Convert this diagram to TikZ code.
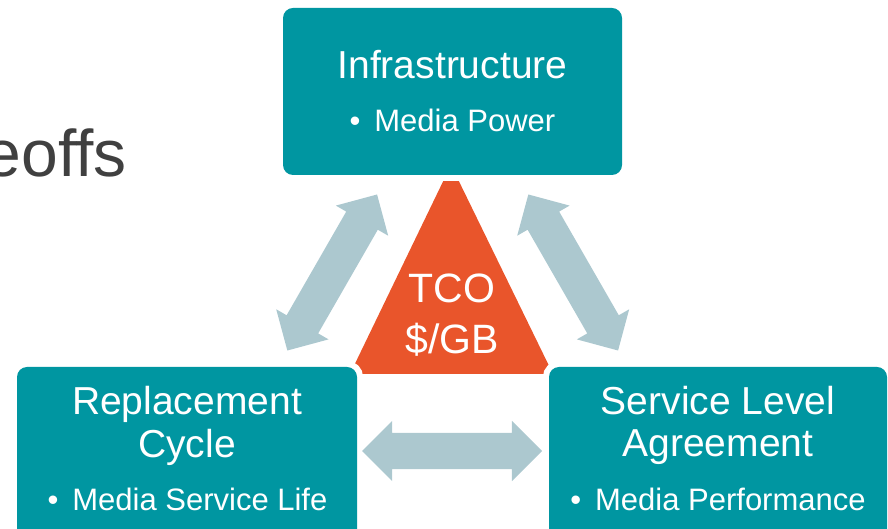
\documentclass[tikz,border=0pt]{standalone}
\usepackage{fontspec}
\setmainfont{Liberation Sans}
\usetikzlibrary{shapes.arrows}

\definecolor{boxteal}{RGB}{0,150,161}
\definecolor{tcored}{RGB}{233,85,43}
\definecolor{linkgrey}{RGB}{172,200,207}
\definecolor{titlegrey}{RGB}{64,64,64}

\tikzset{
  box/.style={fill=boxteal, rounded corners=10pt, inner sep=0pt,
    preaction={draw=white, line width=12pt}},
  head/.style={font=\fontsize{39}{44}\selectfont, text=white, anchor=base},
  item/.style={font=\fontsize{31}{36}\selectfont, text=white, anchor=base},
  tco/.style={font=\fontsize{41}{49}\selectfont, text=white, anchor=base},
  link/.style={double arrow, fill=linkgrey, inner xsep=0pt, inner ysep=18pt,
    double arrow head extend=12pt, minimum height=180pt}
}

\begin{document}
\begin{tikzpicture}[x=1pt, y=1pt]
  \useasboundingbox (0,0) rectangle (888,529);

  \node[anchor=base east, inner sep=0pt, text=titlegrey,
    font=\fontsize{66}{79}\selectfont] (H) at (127,352) {eoffs};

  \coordinate (A) at (451,364);
  \coordinate (B) at (350,155);
  \coordinate (C) at (553,155);
  \fill[tcored] (A) -- (B) -- (C) -- cycle;
  \node[tco] (T1) at (452,226) {TCO};
  \node[tco] (T2) at (452,175) {\$/GB};

  \node[box, minimum width=339pt, minimum height=167pt] (I) at (452.5,437.5) {};
  \node[box, minimum width=340pt, minimum height=178pt] (R) at (187,73) {};
  \node[box, minimum width=338pt, minimum height=178pt] (S) at (718,73) {};

  \node[head] (I1) at (452.5,450) {Infrastructure};
  \node[item] (I2) at (452.5,397) {•\hspace{0.45em}Media Power};

  \node[head] (R1) at (187,114) {Replacement};
  \node[head] (R2) at (187,71) {Cycle};
  \node[item] (R3) at (187.5,18) {•\hspace{0.45em}Media Service Life};

  \node[head] (S1) at (718,114) {Service Level};
  \node[head] (S2) at (718,72) {Agreement};
  \node[item] (S3) at (718,18) {•\hspace{0.45em}Media Performance};

  \node[link, rotate=60.1] (IR) at (332.2,256.5) {};
  \node[link, rotate=-60.1] (IS) at (573.2,256.5) {};
  \node[link] (RS) at (452,78) {};
\end{tikzpicture}
\end{document}
